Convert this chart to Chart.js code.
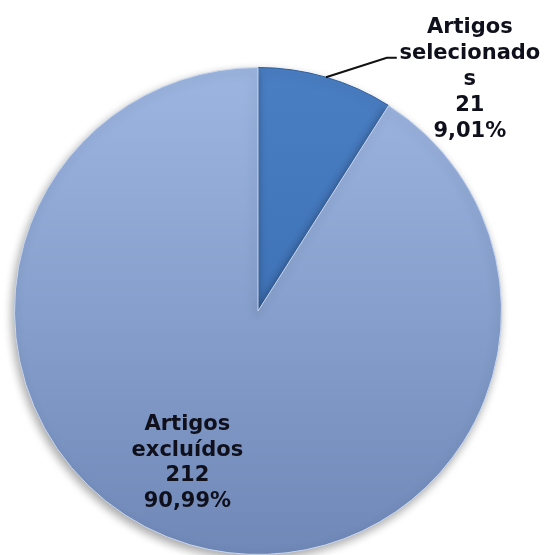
<!DOCTYPE html>
<html lang="pt">
<head>
<meta charset="UTF-8">
<title>Artigos</title>
<script src="https://cdn.jsdelivr.net/npm/chart.js"></script>
<style>
  body { margin: 0; background: #ffffff; }
  #grafico { display: block; }
</style>
</head>
<body>
<canvas id="grafico" width="545" height="555"></canvas>

<script>
    // dados do grafico
    var categorias = ['Artigos selecionados', 'Artigos excluídos'];
    var quantidades = [21, 212];
    var percentuais = ['9,01%', '90,99%'];
    var rotulos = [
        ['Artigos', 'selecionado', 's', '21', '9,01%'],
        ['Artigos', 'excluídos', '212', '90,99%']
    ];
    var cores = [['#4a7fc4', '#3466aa'], ['#9db6e1', '#6f88b7']];

    // gradiente vertical para cada fatia
    function gradiente(ctx) {
        var chart = ctx.chart;
        var area = chart.chartArea;
        var par = cores[ctx.dataIndex];
        if (!area) return par[0];
        var g = chart.ctx.createLinearGradient(0, area.top, 0, area.bottom);
        g.addColorStop(0, par[0]);
        g.addColorStop(1, par[1]);
        return g;
    }

    // sombra leve embaixo da pizza
    const sombra = {
        id: 'sombra',
        beforeDatasetsDraw(chart) {
            const c = chart.ctx;
            c.save();
            c.shadowColor = 'rgba(0,0,0,0.35)';
            c.shadowBlur = 10;
            c.shadowOffsetX = -2;
            c.shadowOffsetY = 4;
        },
        afterDatasetsDraw(chart) {
            chart.ctx.restore();
        }
    };

    // rotulos de dados (texto + linha de chamada)
    const rotulosPlugin = {
        id: 'rotulos',
        afterDraw(chart) {
            const c = chart.ctx;
            const arcos = chart.getDatasetMeta(0).data;
            const cx = arcos[0].x, cy = arcos[0].y, R = arcos[0].outerRadius;
            c.save();
            c.font = 'bold 21px "DejaVu Sans", Verdana, sans-serif';
            c.fillStyle = '#10101c';
            c.textAlign = 'center';
            c.textBaseline = 'alphabetic';

            // fatia pequena: rotulo fora com linha
            const a0 = arcos[0];
            const meio = (a0.startAngle + a0.endAngle) / 2;
            const px = cx + Math.cos(meio) * R, py = cy + Math.sin(meio) * R;
            const lx = cx + 0.57 * R, ly = cy - 1.04 * R;
            c.strokeStyle = '#111111';
            c.lineWidth = 2;
            c.beginPath();
            c.moveTo(px, py);
            c.lineTo(lx - 10, ly);
            c.lineTo(lx, ly);
            c.stroke();

            var x1 = cx + 0.87 * R, y1 = cy - 1.14 * R;
            rotulos[0].forEach(function (t, i) {
                c.fillText(t, x1, y1 + i * 26);
            });

            // fatia grande: rotulo dentro
            var x2 = cx - 0.29 * R, y2 = cy + 0.49 * R;
            rotulos[1].forEach(function (t, i) {
                c.fillText(t, x2, y2 + i * 25.5);
            });
            c.restore();
        }
    };

    const config = {
        type: 'pie',
        data: {
            labels: categorias,
            datasets: [{
                data: quantidades,
                backgroundColor: gradiente,
                borderColor: ['#2f5d9c', '#c9d7ef'],
                borderWidth: 1
            }]
        },
        options: {
            responsive: false,
            animation: false,
            layout: { padding: { left: 14, right: 43, top: 67, bottom: 0 } },
            plugins: {
                legend: { display: false },
                tooltip: { enabled: false }
            }
        },
        plugins: [sombra, rotulosPlugin]
    };

    let meuGrafico = new Chart(document.getElementById('grafico'), config);
</script>
</body>
</html>
